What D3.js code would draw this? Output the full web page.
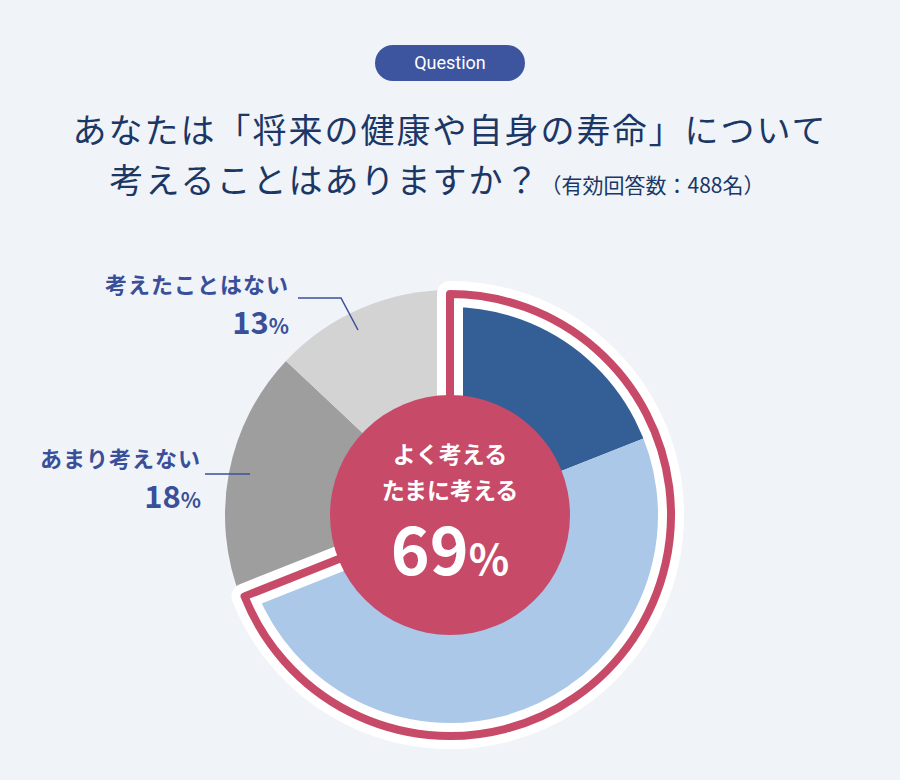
<!DOCTYPE html><html><head><meta charset="utf-8">
<script src="https://cdn.jsdelivr.net/npm/d3@7"></script>
<style>body{margin:0;background:#f0f4f8}</style></head><body>
<svg id="c" width="900" height="780"></svg>
<script>
const categories=["よく考える","たまに考える","あまり考えない","考えたことはない"];
const values=[19,50,18,13];
const colors=["#335e96","#abc8e8","#9e9e9e","#d3d3d3"];
const highlightTotal=69;
const F="'Noto Sans CJK JP','Noto Sans',sans-serif";
const svg=d3.select("#c");
svg.append("rect").attr("width",900).attr("height",780).attr("fill","#f0f4f8");
svg.append("rect").attr("x",375).attr("y",45).attr("width",150).attr("height",36).attr("rx",18).attr("fill","#3d559f");
svg.append("text").attr("x",450).attr("y",69).attr("text-anchor","middle").attr("fill","#fff").attr("font-family","Roboto,sans-serif").attr("font-size",18).text("Question");
const tc="#1b3766";
svg.append("text").attr("x",450).attr("y",143).attr("text-anchor","middle").attr("fill",tc).attr("font-family",F).attr("font-size",34).attr("letter-spacing",2).text("あなたは「将来の健康や自身の寿命」について");
const t2=svg.append("text").attr("x",437).attr("y",193).attr("text-anchor","middle").attr("fill",tc).attr("font-family",F).attr("letter-spacing",2);
t2.append("tspan").attr("font-size",34).text("考えることはありますか？");
t2.append("tspan").attr("font-size",21).attr("letter-spacing",0).text("（有効回答数：488名）");
const cx=450,cy=515;
const g=svg.append("g").attr("transform",`translate(${cx},${cy})`);
const pie=d3.pie().sort(null).value(d=>d)(values);
g.selectAll("path.s").data(pie).join("path").attr("d",d3.arc().innerRadius(0).outerRadius((d,i)=>i<2?221:225)).attr("fill",(d,i)=>colors[i]);
const hp=d3.arc().innerRadius(0).outerRadius(221)({startAngle:0,endAngle:2*Math.PI*highlightTotal/100});
g.append("path").attr("d",hp).attr("fill","none").attr("stroke","#fff").attr("stroke-width",26).attr("stroke-linejoin","round");
g.append("path").attr("d",hp).attr("fill","none").attr("stroke","#c84a69").attr("stroke-width",8).attr("stroke-linejoin","round");
g.append("circle").attr("r",120).attr("fill","#c84a69");
g.append("text").attr("y",-52).attr("text-anchor","middle").attr("fill","#fff").attr("font-family",F).attr("font-weight",700).attr("font-size",23).text("よく考える");
g.append("text").attr("y",-16).attr("text-anchor","middle").attr("fill","#fff").attr("font-family",F).attr("font-weight",700).attr("font-size",23).text("たまに考える");
const p=g.append("text").attr("y",60).attr("text-anchor","middle").attr("fill","#fff").attr("font-family",F).attr("font-weight",700);
p.append("tspan").attr("font-size",66).text(highlightTotal);p.append("tspan").attr("font-size",42).text("%");
const lc="#3a4f9a";
function lab(x,y,name,v){
 svg.append("text").attr("x",x).attr("y",y).attr("text-anchor","end").attr("fill",lc).attr("font-family",F).attr("font-weight",700).attr("font-size",22).attr("letter-spacing",1).text(name);
 const t=svg.append("text").attr("x",x).attr("y",y+41).attr("text-anchor","end").attr("fill",lc).attr("font-family",F).attr("font-weight",700);
 t.append("tspan").attr("font-size",31).text(v);t.append("tspan").attr("font-size",21).text("%");
}
lab(289,293,categories[3],values[3]);
lab(201,467,categories[2],values[2]);
svg.append("path").attr("d","M298,298H341L358,330").attr("fill","none").attr("stroke",lc).attr("stroke-width",1.5);
svg.append("path").attr("d","M205,474H250").attr("fill","none").attr("stroke",lc).attr("stroke-width",1.5);
</script></body></html>
